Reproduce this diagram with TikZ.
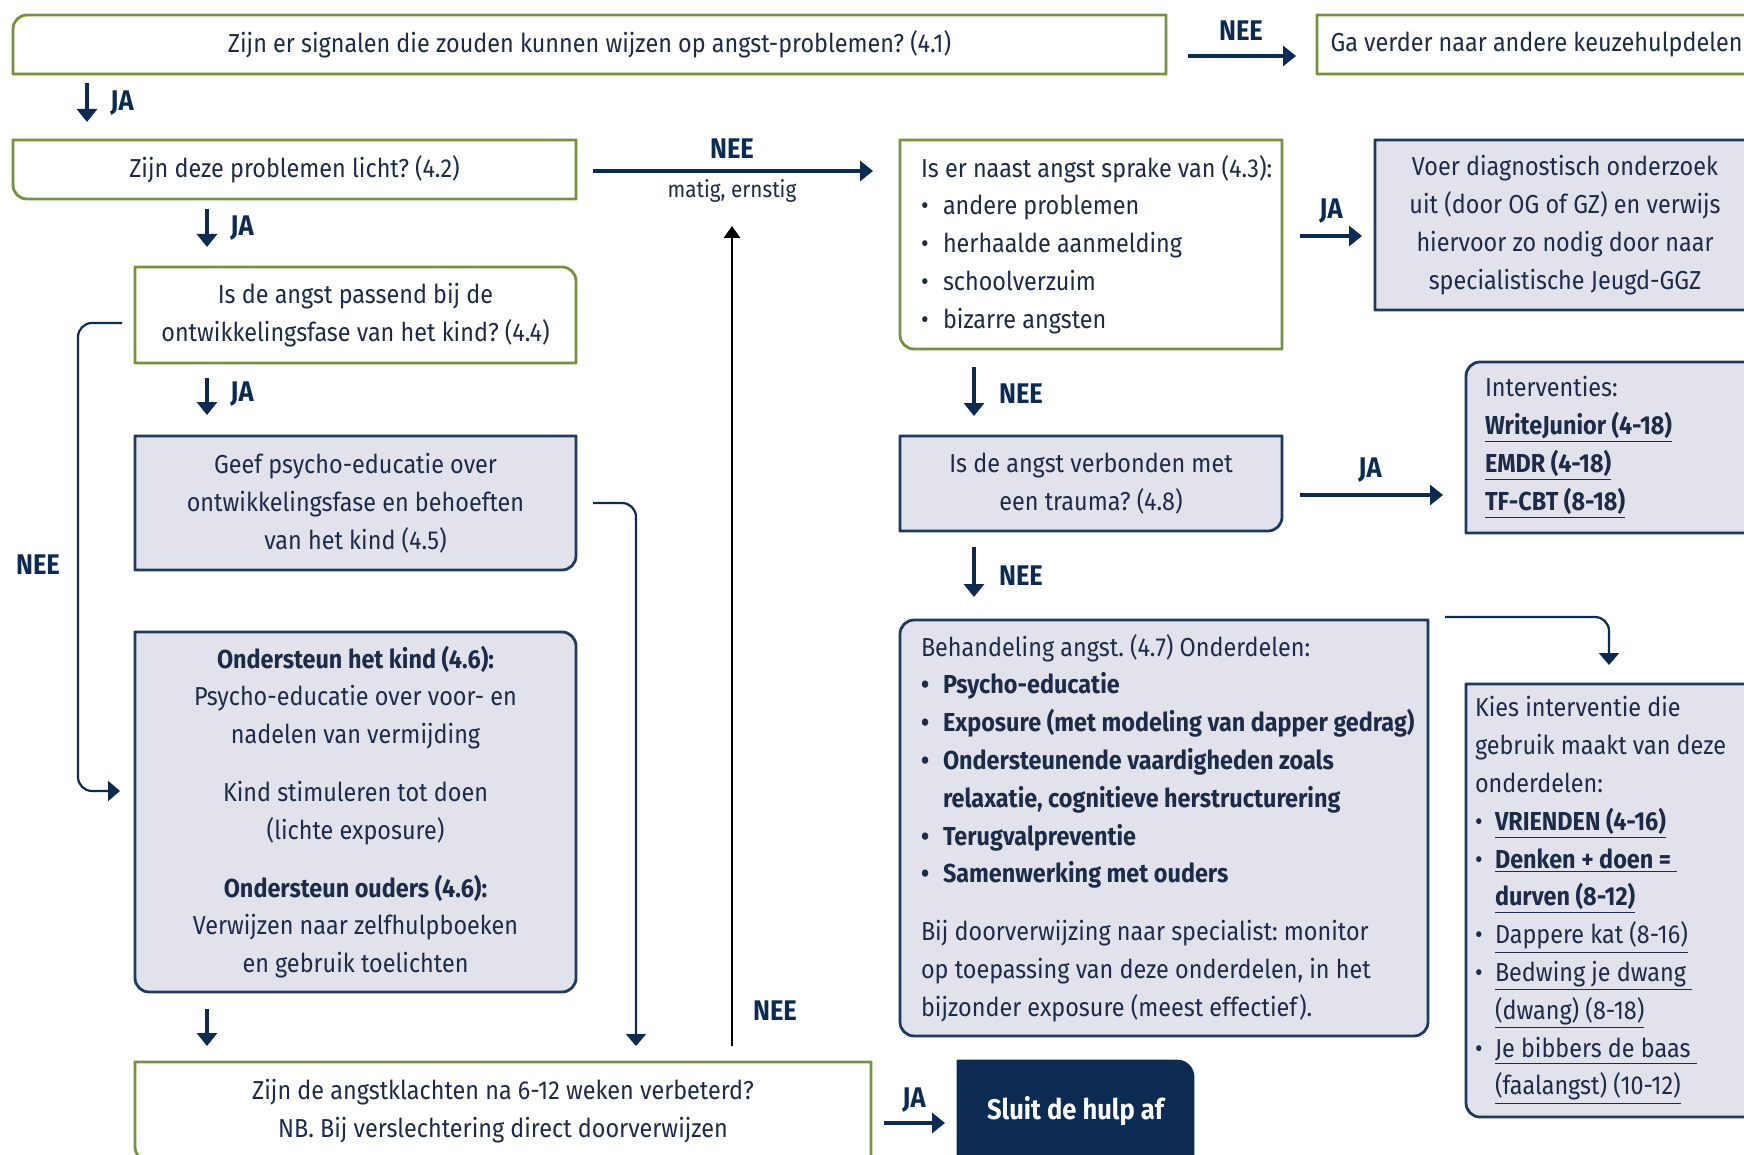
\documentclass[tikz,border=0pt]{standalone}
\usepackage{fontspec}
\setmainfont{Fira Sans}[FakeStretch=0.9]
\frenchspacing
\usetikzlibrary{arrows.meta,backgrounds}
\definecolor{grn}{HTML}{76923C}
\definecolor{navy}{HTML}{0B2B52}
\definecolor{navyb}{HTML}{1F3A5F}
\definecolor{lav}{HTML}{E1E2EC}
\definecolor{txt}{HTML}{1E2B48}
\newcommand\bodyfnt{\fontsize{13}{18.9}\selectfont}
\newcommand\labfnt{\fontsize{14.2}{17}\selectfont\bfseries}
\newcommand\smallfnt{\fontsize{11.5}{13}\selectfont}
\newcommand\sluitfnt{\fontsize{14.2}{17}\selectfont\bfseries}
\newcommand\natsp{\spaceskip=0pt\xspaceskip=0pt\relax}
\newcommand\bul[1]{\mbox{\makebox[11pt][l]{\textbullet}#1}}
\newcommand\bulk[1]{\mbox{\makebox[10pt][l]{\textbullet}#1}}
\newcommand\cornerbox[6]{%
  \path[#1] ([xshift=#3]#2.north west) -- ([xshift=-#4]#2.north east)
    arc[start angle=90,end angle=0,radius=#4] -- ([yshift=#5]#2.south east)
    arc[start angle=0,end angle=-90,radius=#5] -- ([xshift=#6]#2.south west)
    arc[start angle=270,end angle=180,radius=#6] -- ([yshift=-#3]#2.north west)
    arc[start angle=180,end angle=90,radius=#3] -- cycle;}
\tikzset{
  gbox/.style={draw=grn, fill=white, line width=1.4pt},
  nbox/.style={draw=navyb, fill=lav, line width=1.4pt},
  dbox/.style={draw=navy, fill=navy, line width=1.4pt},
  holder/.style={inner sep=0pt, outer sep=0pt, align=center, font=\bodyfnt, text=txt, anchor=north west},
  lab/.style={font=\labfnt, text=navy, inner sep=0pt},
  sublab/.style={font=\smallfnt, text=txt, inner sep=0pt},
  arr/.style={draw=navy, line width=1.6pt, -{Triangle[length=6.5pt,width=10pt]}},
  thin/.style={draw=navy, line width=1.1pt, rounded corners=7pt, -{Triangle[length=6pt,width=10pt]}},
  blk/.style={draw=black, line width=1.4pt, -{Triangle[length=6pt,width=8pt]}}
}
\begin{document}
\begin{tikzpicture}[x=0.5pt,y=-0.5pt]
\useasboundingbox (0,0) rectangle (1744,1155);

% ---------- nodes ----------
\node[holder, minimum width=576.5pt, minimum height=29.5pt] (n41) at (13,15) {Zijn er signalen die zouden kunnen wijzen op angst-problemen? (4.1)};
\node[holder, minimum width=219.5pt, minimum height=29.5pt] (ngo) at (1317,15) {Ga verder naar andere keuzehulpdelen};
\node[holder, minimum width=281.5pt, minimum height=29.5pt] (n42) at (13,140) {Zijn deze problemen licht? (4.2)};
\node[holder, minimum width=220.5pt, minimum height=48pt] (n44) at (135,267) {Is de angst passend bij de\\ontwikkelingsfase van het kind? (4.4)};
\node[holder, minimum width=220.5pt, minimum height=67pt] (n45) at (135,436) {Geef psycho-educatie over\\ontwikkelingsfase en behoeften\\van het kind (4.5)};
\node[holder, minimum width=220.5pt, minimum height=180pt] (n46) at (135,632) {\textbf{Ondersteun het kind (4.6):}\\Psycho-educatie over voor- en\\nadelen van vermijding\\[10pt]Kind stimuleren tot doen\\(lichte exposure)\\[10pt]\textbf{Ondersteun ouders (4.6):}\\Verwijzen naar zelfhulpboeken\\en gebruik toelichten};
\node[holder, minimum width=368pt, minimum height=49.5pt] (n49) at (135,1062) {Zijn de angstklachten na 6-12 weken verbeterd?\\NB. Bij verslechtering direct doorverwijzen};
\node[holder, minimum width=117.5pt, minimum height=50pt, text=white, font=\sluitfnt] (nsl) at (958,1061) {Sluit de hulp af};

\node[holder, align=left, text width=170pt, minimum width=191pt, minimum height=104.5pt] (n43) at (900,140) {\natsp\mbox{Is er naast angst sprake van (4.3):}\\\bul{andere problemen}\\\bul{herhaalde aanmelding}\\\bul{schoolverzuim}\\\bul{bizarre angsten}};
\node[holder, minimum width=190pt, minimum height=85pt] (nvoer) at (1375,140) {Voer diagnostisch onderzoek\\uit (door OG of GZ) en verwijs\\hiervoor zo nodig door naar\\specialistische Jeugd-GGZ};
\node[holder, minimum width=191pt, minimum height=47.5pt] (n48) at (900,436) {Is de angst verbonden met\\een trauma? (4.8)};
\node[holder, align=left, text width=150pt, minimum width=169pt, minimum height=85.5pt] (nint) at (1466,362) {\natsp Interventies:\\\underline{\textbf{WriteJunior (4-18)}}\\\underline{\textbf{EMDR (4-18)}}\\\underline{\textbf{TF-CBT (8-18)}}};
\node[holder, align=left, text width=243pt, minimum width=264pt, minimum height=208pt] (n47) at (900,620) {\natsp\mbox{Behandeling angst. (4.7) Onderdelen:}\\\textbf{\bul{Psycho-educatie}}\\\textbf{\bul{Exposure (met modeling van dapper gedrag)}}\\\textbf{\bul{Ondersteunende vaardigheden zoals}}\\\textbf{\mbox{\hspace*{11pt}relaxatie, cognitieve herstructurering}}\\\textbf{\bul{Terugvalpreventie}}\\\textbf{\bul{Samenwerking met ouders}}\\[10pt]\mbox{Bij doorverwijzing naar specialist: monitor}\\\mbox{op toepassing van deze onderdelen, in het}\\\mbox{bijzonder exposure (meest effectief).}};
\node[holder, align=left, text width=160pt, minimum width=169pt, minimum height=216.5pt] (nkies) at (1466,684) {\natsp\mbox{Kies interventie die}\\\mbox{gebruik maakt van deze}\\onderdelen:\\\bulk{\underline{\textbf{VRIENDEN (4-16)}}}\\\bulk{\underline{\textbf{Denken + doen =\ }}}\\\mbox{\hspace*{10pt}\underline{\textbf{durven (8-12)}}}\\\bulk{\underline{Dappere kat (8-16)}}\\\bulk{\underline{Bedwing je dwang\ }}\\\mbox{\hspace*{10pt}\underline{(dwang) (8-18)}}\\\bulk{\underline{Je bibbers de baas\ }}\\\mbox{\hspace*{10pt}\underline{(faalangst) (10-12)}}};

% ---------- box outlines (drawn slightly above the text block to centre it) ----------
\begin{scope}[on background layer]
\fill[white] (0,0) rectangle (1744,1155);
\begin{scope}[yshift=1pt]
\cornerbox{gbox}{n41}{7pt}{0.01pt}{0.01pt}{0.01pt}
\cornerbox{gbox}{ngo}{0.01pt}{0.01pt}{0.01pt}{0.01pt}
\cornerbox{gbox}{n42}{0.01pt}{0.01pt}{0.01pt}{7pt}
\cornerbox{gbox}{n44}{0.01pt}{7pt}{0.01pt}{0.01pt}
\cornerbox{nbox}{n45}{0.01pt}{0.01pt}{7pt}{0.01pt}
\cornerbox{gbox}{n43}{0.01pt}{0.01pt}{0.01pt}{7pt}
\cornerbox{nbox}{nvoer}{0.01pt}{0.01pt}{0.01pt}{0.01pt}
\cornerbox{nbox}{n48}{0.01pt}{0.01pt}{7pt}{0.01pt}
\cornerbox{nbox}{n47}{7pt}{0.01pt}{7pt}{7pt}
\end{scope}
\begin{scope}[yshift=0.5pt]
\cornerbox{nbox}{n46}{0.01pt}{7pt}{7pt}{7pt}
\cornerbox{gbox}{n49}{0.01pt}{0.01pt}{0.01pt}{7pt}
\end{scope}
\begin{scope}[yshift=2pt]
\cornerbox{nbox}{nint}{7pt}{0.01pt}{0.01pt}{0.01pt}
\cornerbox{nbox}{nkies}{0.01pt}{0.01pt}{0.01pt}{7pt}
\end{scope}
\cornerbox{dbox}{nsl}{0.01pt}{8pt}{0.01pt}{0.01pt}
\end{scope}

% ---------- connector end points ----------
\coordinate (a1s) at (1188,56);  \coordinate (a1e) at (1296,56);
\coordinate (a2s) at (87,83);    \coordinate (a2e) at (87,122);
\coordinate (a3s) at (593,171);  \coordinate (a3e) at (873,171);
\coordinate (a4s) at (207,209);  \coordinate (a4e) at (207,247);
\coordinate (a5s) at (207,378);  \coordinate (a5e) at (207,415);
\coordinate (a6s) at (122,323);  \coordinate (a6e) at (120,791);
\coordinate (a7s) at (593,503);  \coordinate (a7e) at (636,1046);
\coordinate (a8s) at (207,1009); \coordinate (a8e) at (207,1046);
\coordinate (a9s) at (732,1046); \coordinate (a9e) at (732,226);
\coordinate (a10s) at (884,1123); \coordinate (a10e) at (945,1123);
\coordinate (a11s) at (1300,236); \coordinate (a11e) at (1362,236);
\coordinate (a12s) at (974,367);  \coordinate (a12e) at (974,416);
\coordinate (a13s) at (1300,495); \coordinate (a13e) at (1443,495);
\coordinate (a14s) at (974,547);  \coordinate (a14e) at (974,597);
\coordinate (a15s) at (1445,617); \coordinate (a15e) at (1609,665);

% ---------- connectors ----------
\draw[arr] (a1s) -- (a1e);
\draw[arr] (a2s) -- (a2e);
\draw[arr] (a3s) -- (a3e);
\draw[arr] (a4s) -- (a4e);
\draw[arr] (a5s) -- (a5e);
\draw[thin] (a6s) -- (78,323) -- (78,791) -- (a6e);
\draw[thin] (a7s) -- (636,503) -- (a7e);
\draw[arr] (a8s) -- (a8e);
\draw[blk] (a9s) -- (a9e);
\draw[arr] (a10s) -- (a10e);
\draw[arr] (a11s) -- (a11e);
\draw[arr] (a12s) -- (a12e);
\draw[arr] (a13s) -- (a13e);
\draw[arr] (a14s) -- (a14e);
\draw[thin] (a15s) -- (1609,617) -- (a15e);

% ---------- labels ----------
\node[lab] (l1) at (1241,31) {NEE};
\node[lab] (l2) at (122,103) {JA};
\node[lab] (l3) at (732,149) {NEE};
\node[sublab] (l3b) at (732,191) {matig, ernstig};
\node[lab] (l4) at (242,228) {JA};
\node[lab] (l5) at (242,394) {JA};
\node[lab] (l6) at (38,565) {NEE};
\node[lab] (l7) at (775,1011) {NEE};
\node[lab] (l8) at (914,1100) {JA};
\node[lab] (l9) at (1331,211) {JA};
\node[lab] (l10) at (1021,394) {NEE};
\node[lab] (l11) at (1370,470) {JA};
\node[lab] (l12) at (1021,576) {NEE};
\end{tikzpicture}
\end{document}
